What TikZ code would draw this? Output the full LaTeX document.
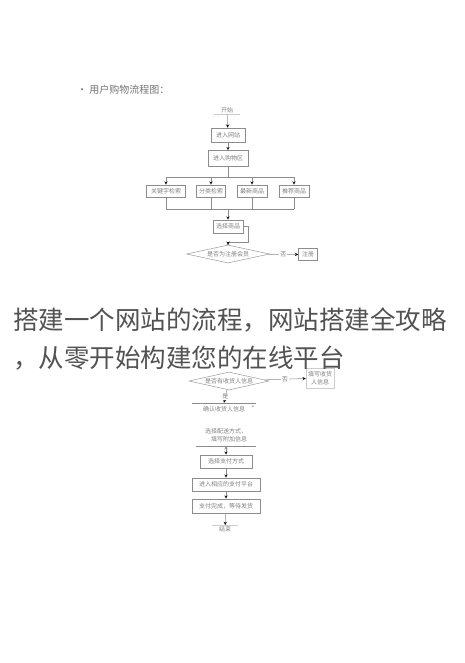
\documentclass[tikz,border=0pt]{standalone}
\usepackage{fontspec}
\newfontfamily\cjk{Noto Sans CJK SC}
\usetikzlibrary{arrows, positioning, shapes.geometric}

\begin{document}
\begin{tikzpicture} [
						x=1pt, y=-1pt,
						>=stealth,
						every node/.style={font=\cjk\fontsize{6}{7.5}\selectfont, text=black!50, inner sep=1pt},
						box/.style={draw=black!45, line width=0.6pt, minimum height=13pt},
						choice/.style={diamond, draw=black!40, line width=0.5pt, aspect=4.5, inner sep=0pt},
						flow/.style={draw=black!45, line width=0.5pt},
						faint/.style={draw=black!20, line width=0.5pt},
						headline/.style={anchor=west, inner sep=0pt, font=\cjk\fontsize{25.5}{30}\selectfont, text=black!68}
					]

\useasboundingbox (0,0) rectangle (465,663);

\node (title) [anchor=west, font=\cjk\fontsize{10}{12}\selectfont, text=black!55] at (76,90) {· 用户购物流程图：};

\node (start) at (227,110) {开始};
\node (site) [box, minimum width=34pt, minimum height=14pt] at (228,135) {进入网站};
\node (mall) [box, minimum width=40pt, minimum height=16pt] at (228,158.5) {进入购物区};
\node (kw)   [box, minimum width=39pt, minimum height=12pt] at (166,191) {关键字检索};
\node (cat)  [box, minimum width=29pt, minimum height=12pt] at (211,191) {分类检索};
\node (new)  [box, minimum width=30pt, minimum height=12pt] at (252,191) {最新商品};
\node (rec)  [box, minimum width=30pt, minimum height=12pt] at (294,191) {推荐商品};
\node (pick) [box, minimum width=30pt] at (228,226.5) {选择商品};
\node (member) [choice, minimum width=83pt, minimum height=18pt] at (228,254) {是否为注册会员};
\node (reg)  [box, minimum width=19pt, minimum height=12pt] at (308,254.5) {注册};

\coordinate (top) at (228,177);
\coordinate (bottom) at (228,209);
\coordinate (bend) at (248,242);
\coordinate (join) at (228,242);

\draw[faint] ([xshift=-6pt]start.south west) -- ([xshift=6pt]start.south east);
\draw[flow] (kw |- top) -- (rec |- top);
\draw[flow] (kw |- bottom) -- (rec |- bottom);
\draw[flow] (pick.east) -| (bend) -- (join);

\path[flow, ->]
	(start) edge (site)
	(site) edge (mall)
	(kw |- top) edge (kw)
	(cat |- top) edge (cat)
	(new |- top) edge (new)
	(rec |- top) edge (rec)
	(bottom) edge (pick)
	(join) edge (member)
	(member) edge node[fill=white] {否} (reg);
\path[flow]
	(mall) edge (top)
	(kw) edge (kw |- bottom)
	(cat) edge (cat |- bottom)
	(new) edge (new |- bottom)
	(rec) edge (rec |- bottom);

\node (address) [choice, minimum width=80pt, minimum height=18pt] at (229,381) {是否有收货人信息};
\node (fill) [faint, draw, text width=26pt, align=center, minimum height=20pt] at (320,378) {填写收货\\人信息};
\node (confirm) [minimum width=63pt, minimum height=12pt] at (224,409) {确认收货人信息};
\node (mark) at (253,408) {*};
\node (ship) [align=right, minimum width=60pt, minimum height=22pt] at (226,435) {选择配送方式，\\填写附加信息};
\node (pay) [box, minimum width=52pt] at (226,461.5) {选择支付方式};
\node (platform) [box, minimum width=68pt] at (226,484.5) {进入相应的支付平台};
\node (done) [box, minimum width=68pt, minimum height=14pt] at (226,506) {支付完成，等待发货};
\node (finish) at (225,529) {结束};

\draw[flow] (confirm.north west) -- (confirm.north east);
\draw[flow] (ship.south west) -- (ship.south east);
\draw[faint] ([xshift=-6pt]finish.north west) -- ([xshift=6pt]finish.north east);

\path[flow, ->]
	(address) edge node[fill=white] {否} (fill)
	(address) edge node[fill=white] {是} (confirm.north)
	(ship.south) edge (pay)
	(pay) edge (platform)
	(platform) edge (done)
	(done) edge (finish);

\node (head1) [headline] at (13,320) {搭建一个网站的流程，网站搭建全攻略};
\node (head2) [headline] at (13,358) {，从零开始构建您的在线平台};
\end{tikzpicture}
\end{document}
